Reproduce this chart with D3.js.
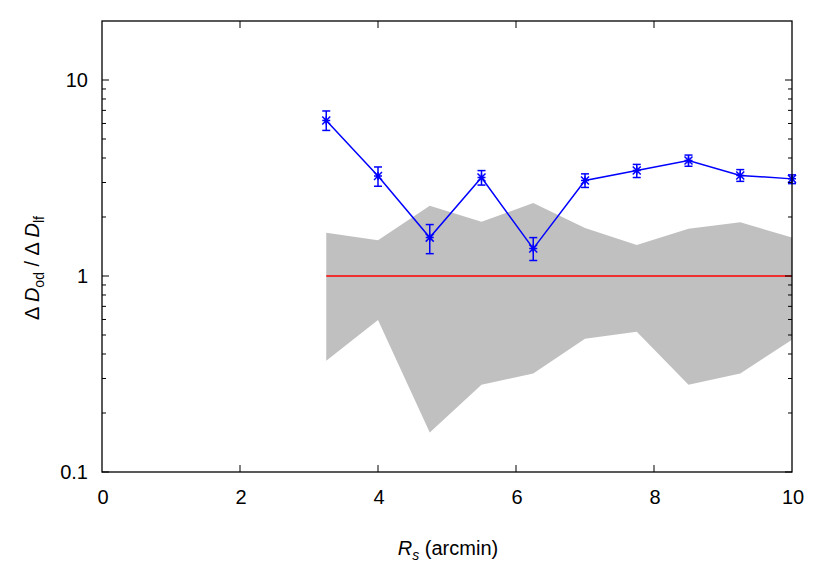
<!DOCTYPE html>
<html>
<head>
<meta charset="utf-8">
<script src="https://cdn.jsdelivr.net/npm/d3@7"></script>
<style>
  body { margin: 0; background: #fff; }
  svg { display: block; font-family: "Liberation Sans", Arial, sans-serif; }
</style>
</head>
<body>
<svg id="chart" width="830" height="581"></svg>
<script>
// ---- data ----
const rs = [3.25, 4, 4.75, 5.5, 6.25, 7, 7.75, 8.5, 9.25, 10];
const ratio = [6.22, 3.24, 1.57, 3.18, 1.38, 3.07, 3.45, 3.88, 3.26, 3.13];
const ratioHi = [6.95, 3.60, 1.83, 3.45, 1.57, 3.32, 3.71, 4.14, 3.49, 3.28];
const ratioLo = [5.53, 2.87, 1.30, 2.91, 1.20, 2.83, 3.18, 3.63, 3.04, 2.96];
const bandHi = [1.66, 1.52, 2.28, 1.89, 2.36, 1.76, 1.44, 1.74, 1.88, 1.57];
const bandLo = [0.370, 0.596, 0.159, 0.279, 0.318, 0.479, 0.520, 0.279, 0.318, 0.473];
const refLevel = 1;
const xTicks = [0, 2, 4, 6, 8, 10];
const yTicks = [0.1, 1, 10];
const yTickLabels = ["0.1", "1", "10"];

// ---- layout ----
const svg = d3.select("#chart");
const L = 102, R = 792, T = 21, B = 472;
const x = d3.scaleLinear().domain([0, 10]).range([L, R]);
const y = d3.scaleLog().domain([0.1, 20]).range([B, T]);

// band
const area = d3.area()
  .x((d, i) => x(rs[i]))
  .y0((d, i) => y(bandLo[i]))
  .y1((d, i) => y(bandHi[i]));
svg.append("path").datum(rs).attr("d", area).attr("fill", "#c0c0c0");

// reference line
svg.append("line")
  .attr("x1", x(rs[0])).attr("x2", x(rs[rs.length - 1]))
  .attr("y1", y(refLevel)).attr("y2", y(refLevel))
  .attr("stroke", "#ff0000").attr("stroke-width", 1.5);

// blue line
const blue = "#0000ff";
svg.append("path").datum(rs)
  .attr("d", d3.line().x((d, i) => x(rs[i])).y((d, i) => y(ratio[i])))
  .attr("fill", "none").attr("stroke", blue).attr("stroke-width", 1.5);

// error bars
const eg = svg.append("g").attr("stroke", blue).attr("stroke-width", 1.5).attr("fill", "none");
rs.forEach((r, i) => {
  const cx = x(r);
  eg.append("line").attr("x1", cx).attr("x2", cx).attr("y1", y(ratioLo[i])).attr("y2", y(ratioHi[i]));
  eg.append("line").attr("x1", cx - 4).attr("x2", cx + 4).attr("y1", y(ratioLo[i])).attr("y2", y(ratioLo[i]));
  eg.append("line").attr("x1", cx - 4).attr("x2", cx + 4).attr("y1", y(ratioHi[i])).attr("y2", y(ratioHi[i]));
  // asterisk marker
  const cy = y(ratio[i]), s = 4;
  eg.append("path").attr("d",
    `M${cx - s},${cy}H${cx + s}M${cx},${cy - s}V${cy + s}` +
    `M${cx - s},${cy - s}L${cx + s},${cy + s}M${cx - s},${cy + s}L${cx + s},${cy - s}`);
});

// frame
svg.append("rect").attr("x", L).attr("y", T).attr("width", R - L).attr("height", B - T)
  .attr("fill", "none").attr("stroke", "#000").attr("stroke-width", 1.3);

// ticks
const tg = svg.append("g").attr("stroke", "#000").attr("stroke-width", 1);
xTicks.forEach(v => {
  if (v === 0 || v === 10) return;
  tg.append("line").attr("x1", x(v)).attr("x2", x(v)).attr("y1", B).attr("y2", B - 7);
  tg.append("line").attr("x1", x(v)).attr("x2", x(v)).attr("y1", T).attr("y2", T + 7);
});
const yMinor = [];
[0.1, 1, 10].forEach(dec => { for (let k = 2; k <= 9; k++) { const v = dec * k; if (v < 20) yMinor.push(v); } });
yTicks.forEach(v => {
  tg.append("line").attr("x1", L).attr("x2", L + 7).attr("y1", y(v)).attr("y2", y(v));
  tg.append("line").attr("x1", R).attr("x2", R - 7).attr("y1", y(v)).attr("y2", y(v));
});
yMinor.forEach(v => {
  tg.append("line").attr("x1", L).attr("x2", L + 4).attr("y1", y(v)).attr("y2", y(v));
  tg.append("line").attr("x1", R).attr("x2", R - 4).attr("y1", y(v)).attr("y2", y(v));
});

// tick labels
const fs = 20;
xTicks.forEach(v => {
  svg.append("text").attr("x", x(v) + 1).attr("y", B + 32).attr("text-anchor", "middle")
    .attr("font-size", fs).text(String(v));
});
yTicks.forEach((v, i) => {
  svg.append("text").attr("x", L - 14).attr("y", y(v) + 7).attr("text-anchor", "end")
    .attr("font-size", fs).text(yTickLabels[i]);
});

// axis titles
const xt = svg.append("text").attr("x", 448).attr("y", 555).attr("text-anchor", "middle").attr("font-size", fs);
xt.append("tspan").attr("font-style", "italic").text("R");
xt.append("tspan").attr("font-style", "italic").attr("font-size", 14).attr("dy", 5).text("s");
xt.append("tspan").attr("dy", -5).text(" (arcmin)");

const yt = svg.append("text").attr("transform", "translate(39,268) rotate(-90)")
  .attr("text-anchor", "middle").attr("font-size", fs);
yt.append("tspan").text("Δ ");
yt.append("tspan").attr("font-style", "italic").text("D");
yt.append("tspan").attr("font-size", 14).attr("dy", 5).text("od");
yt.append("tspan").attr("dy", -5).text(" / Δ ");
yt.append("tspan").attr("font-style", "italic").text("D");
yt.append("tspan").attr("font-size", 14).attr("dy", 5).text("lf");
</script>
</body>
</html>
